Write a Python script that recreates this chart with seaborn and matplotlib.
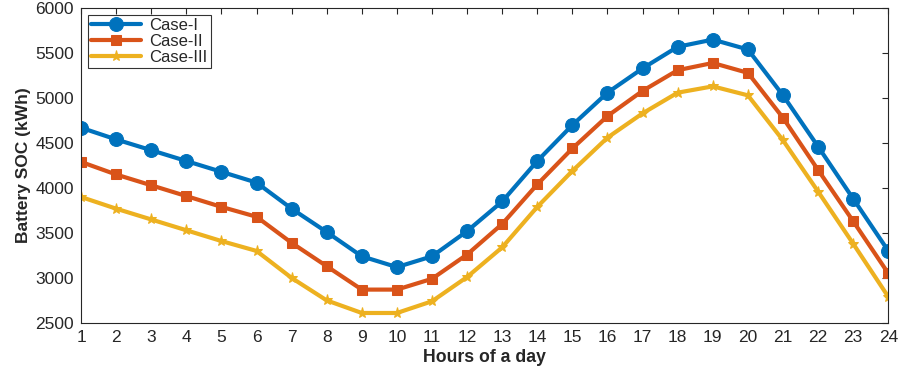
import matplotlib
matplotlib.use("Agg")
import matplotlib.pyplot as plt
import seaborn as sns
import pandas as pd

hours = list(range(1, 25))
case1 = [4670, 4540, 4420, 4300, 4180, 4060, 3770, 3510, 3240, 3120, 3240, 3520,
         3850, 4300, 4700, 5060, 5330, 5570, 5650, 5540, 5030, 4460, 3880, 3300]
case2 = [4290, 4150, 4030, 3910, 3790, 3680, 3390, 3130, 2870, 2870, 2990, 3260,
         3600, 4040, 4440, 4800, 5080, 5310, 5390, 5280, 4780, 4200, 3630, 3050]
case3 = [3900, 3770, 3650, 3530, 3410, 3300, 3000, 2750, 2610, 2610, 2740, 3010,
         3340, 3790, 4190, 4560, 4830, 5060, 5130, 5030, 4530, 3960, 3380, 2790]
series_names = ["Case-I", "Case-II", "Case-III"]

sns.set_theme(style="white")
plt.rcParams['font.family'] = ['Liberation Sans', 'DejaVu Sans']

df = pd.DataFrame({"hour": hours * 3,
                   "soc": case1 + case2 + case3,
                   "case": sum([[n] * 24 for n in series_names], [])})

fig = plt.figure(figsize=(9, 3.69), dpi=100)
ax = fig.add_axes([0.09, 0.125, 0.897, 0.853])

colors = ["#0072BD", "#D95319", "#EDB120"]
markers = ["o", "s", "*"]
msizes = [10, 7.5, 8]
for name, c, m, ms in zip(series_names, colors, markers, msizes):
    sub = df[df["case"] == name]
    sns.lineplot(data=sub, x="hour", y="soc", ax=ax, color=c, linewidth=3,
                 marker=m, markersize=ms, markeredgecolor=c, label=name)

ax.set_xlim(1, 24)
ax.set_ylim(2500, 6000)
ax.set_xticks(hours)
ax.set_yticks(range(2500, 6001, 500))
ax.tick_params(direction="in", top=True, right=True, length=4, width=0.8,
               labelsize=12.5, colors="#262626", pad=5)
for s in ax.spines.values():
    s.set_color("#262626")
    s.set_linewidth(0.8)
ax.set_xlabel("Hours of a day", fontsize=12.7, fontweight="bold", labelpad=3)
ax.set_ylabel("Battery SOC (kWh)", fontsize=12.5, fontweight="bold", labelpad=3)

leg = ax.legend(loc="upper left", fontsize=12, frameon=True, fancybox=False,
                borderaxespad=0.4, handlelength=3.0, labelspacing=0.05,
                borderpad=0.2, handletextpad=0.5)
leg.get_frame().set_edgecolor("black")
leg.get_frame().set_linewidth(0.8)

fig.savefig("out.png", dpi=100)
